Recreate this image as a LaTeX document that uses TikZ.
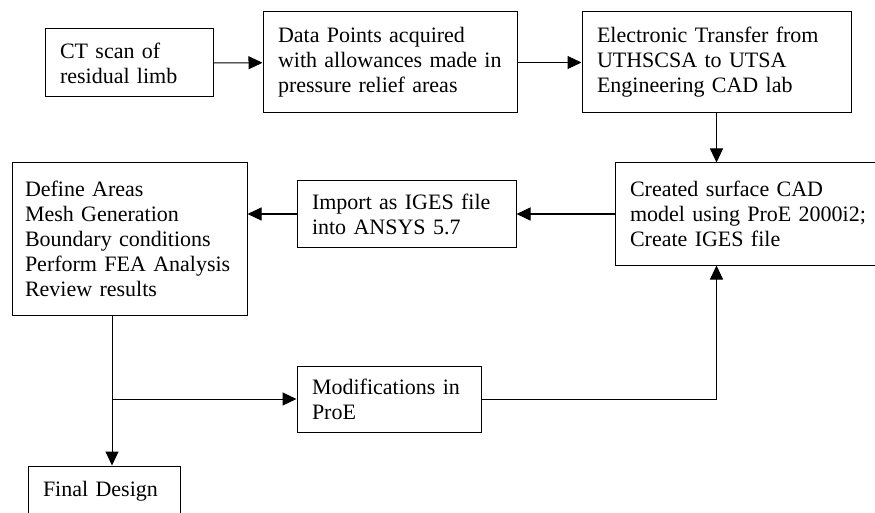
\documentclass[tikz,border=0pt]{standalone}
\usepackage{fontspec}
\setmainfont{Liberation Serif}
\usetikzlibrary{arrows.meta}
\tikzset{
	stage/.style={draw, line width=1pt, align=left, inner xsep=15pt, inner ysep=0pt},
}
\begin{document}
\begin{tikzpicture}[x=1pt, y=-1pt, font=\fontsize{22}{25}\selectfont, line width=1pt, >={Triangle[length=14pt,width=13pt]}]
				\useasboundingbox (0,0) rectangle (875,513);
				\node[stage, text width=138pt, minimum height=68pt] (ct) at (129,63) {CT scan of\\residual limb};
				\node[stage, text width=224pt, minimum height=101pt] (data) at (390,62.5) {Data Points acquired\\with allowances made in\\pressure relief areas};
				\node[stage, text width=239pt, minimum height=101pt] (transfer) at (716.5,62.5) {Electronic Transfer from\\UTHSCSA to UTSA\\Engineering CAD lab};
				\node[stage, text width=244pt, minimum height=102pt] (cad) at (752,214) {Created surface CAD\\model using ProE 2000i2;\\Create IGES file};
				\node[stage, text width=189pt, minimum height=66pt] (iges) at (406.5,214) {Import as IGES file\\into ANSYS 5.7};
				\node[stage, inner xsep=13pt, text width=209pt, minimum height=152pt] (fea) at (129.5,239) {Define Areas\\Mesh Generation\\Boundary conditions\\Perform FEA Analysis\\Review results};
				\node[stage, text width=154pt, minimum height=66pt] (mod) at (389,399) {Modifications in\\ProE};
				\node[stage, text width=122pt, minimum height=50pt] (final) at (104,491) {Final Design};
				\coordinate (split) at (112,399);
				\draw[->] (ct) -- (data);
				\draw[->] (data.east) -- (transfer.west);
				\draw[->] (transfer.south) -- (transfer.south |- cad.north);
				\draw[->] (cad.west) -- (iges.east);
				\draw[->] (iges.west) -- (iges.west -| fea.east);
				\draw (split |- fea.south) -- (split);
				\draw[->] (split) -- (split |- final.north);
				\draw[->] (split) -- (mod.west);
				\draw[->] (mod.east) -| (transfer.south |- cad.south);
			\end{tikzpicture}
\end{document}
